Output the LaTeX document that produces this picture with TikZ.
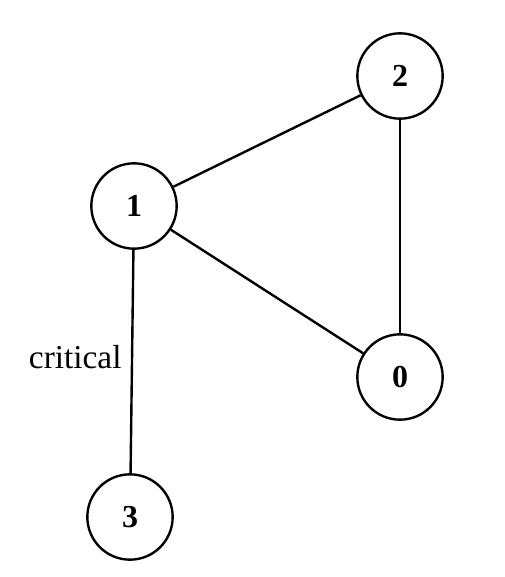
\documentclass[tikz,border=0pt]{standalone}
\usepackage{fontspec}
\setmainfont{Liberation Serif}
\usepackage{tikz}
\usetikzlibrary{positioning}

\begin{document}
\begin{tikzpicture}[
  x=0.75pt, y=-0.75pt,
  vertex/.style={circle, draw, line width=1.8pt, minimum size=64pt,
                 inner sep=0pt, font=\fontsize{24}{28}\selectfont\bfseries},
  edge/.style={line width=1.8pt}
]
\useasboundingbox (0,0) rectangle (504,577);

% Vertices
\node[vertex] (v2) at (400,76) {2};
\node[vertex] (v1) at (134,206) {1};
\node[vertex] (v0) at (400,377) {0};
\node[vertex] (v3) at (130,517) {3};

% Edges
\draw[edge] (v1) -- (v2);
\draw[edge] (v2) -- (v0);
\draw[edge] (v1) -- (v0);
\draw[edge] (v1) -- node[left, inner sep=1pt, xshift=-6pt, font=\fontsize{25}{28}\selectfont, pos=0.48]{critical} (v3);
\end{tikzpicture}
\end{document}
